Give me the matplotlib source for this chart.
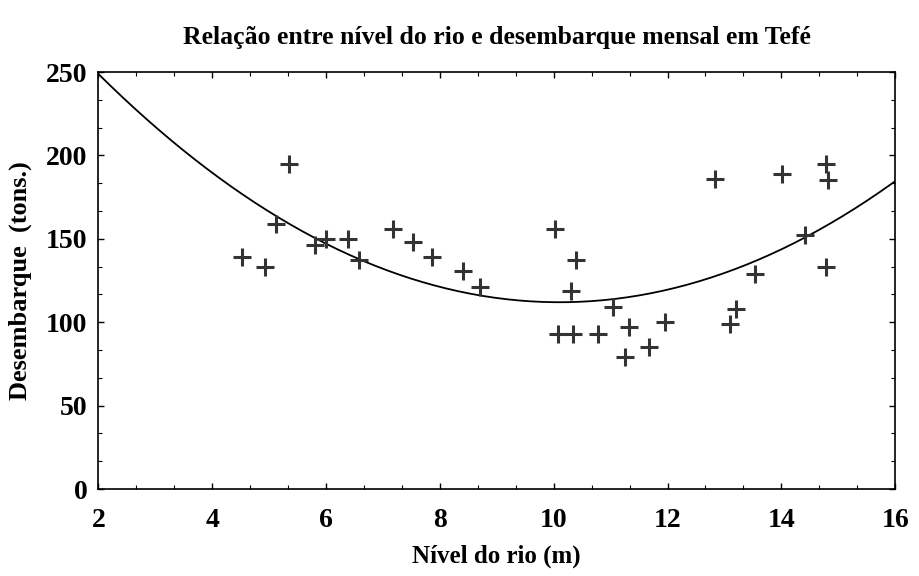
import numpy as np
import matplotlib.pyplot as plt
from matplotlib.ticker import MultipleLocator

# river level (m) and monthly landings (t)
nivel = [4.52, 4.93, 5.12, 5.34, 5.81, 5.99, 6.38, 6.57, 7.18, 7.53, 7.86,
         8.40, 8.70, 10.02, 10.40, 10.30, 10.07, 10.34, 10.78, 11.05, 11.33,
         11.25, 11.67, 11.96, 12.83, 13.20, 13.09, 13.53, 14.02, 14.41, 14.79,
         14.82, 14.79]
desembarque = [139, 133, 159, 195, 146, 150, 150, 137, 156, 148, 139,
               131, 121, 156, 137, 119, 93, 93, 93, 109, 97,
               79, 85, 100, 186, 108, 99, 129, 189, 152, 195,
               185, 133]

# quadratic fit drawn in the original (c2, c1, c0)
ajuste = [2.085, -42.12, 324.7]

plt.rcParams['font.family'] = ['Liberation Serif', 'DejaVu Serif']
plt.rcParams['font.weight'] = 'bold'

fig = plt.figure(figsize=(9.2, 5.76), dpi=100)
ax = fig.add_axes([0.107, 0.151, 0.866, 0.724])

xs = np.linspace(2, 16, 200)
ax.plot(xs, np.polyval(ajuste, xs), color='black', lw=1.3)
ax.plot(nivel, desembarque, linestyle='none', marker='+', markersize=13,
        mew=2.2, color='#333333')

ax.set_xlim(2, 16)
ax.set_ylim(0, 250)
ax.xaxis.set_major_locator(MultipleLocator(2))
ax.xaxis.set_minor_locator(MultipleLocator(2 / 3))
ax.yaxis.set_major_locator(MultipleLocator(50))
ax.yaxis.set_minor_locator(MultipleLocator(50 / 3))
ax.tick_params(which='both', direction='in', top=True, right=True)
ax.tick_params(which='major', length=4, width=1)
ax.tick_params(which='minor', length=3, width=0.8)
ax.tick_params(axis='both', labelsize=20)
ax.tick_params(axis='x', pad=14)
ax.tick_params(axis='y', pad=8)
for s in ax.spines.values():
    s.set_linewidth(1.2)

ax.set_title('Relação entre nível do rio e desembarque mensal em Tefé',
             fontsize=18.5, fontweight='bold', pad=20)
ax.set_xlabel('Nível do rio (m)', fontsize=18, fontweight='bold', labelpad=8)
ax.set_ylabel('Desembarque  (tons.)', fontsize=19, fontweight='bold', labelpad=10)

fig.savefig('out.png', dpi=100)
